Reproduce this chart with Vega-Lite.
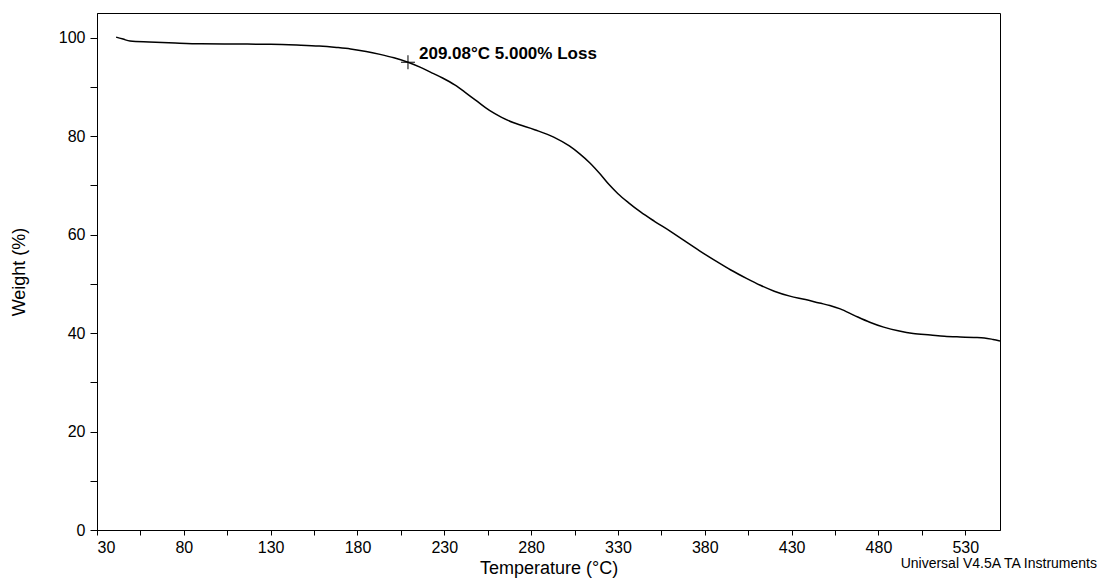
{
  "$schema": "https://vega.github.io/schema/vega-lite/v6.json",
  "width": 903,
  "height": 517,
  "autosize": "none",
  "padding": {"left": 97, "top": 13, "right": 100, "bottom": 50},
  "background": "white",
  "config": {
    "view": {"stroke": "black", "strokeWidth": 1},
    "font": "Liberation Sans",
    "axis": {
      "grid": false,
      "domainColor": "black",
      "tickColor": "black",
      "labelColor": "black",
      "titleColor": "black",
      "labelFont": "Liberation Sans",
      "titleFont": "Liberation Sans",
      "labelFontSize": 16,
      "titleFontSize": 18,
      "titleFontWeight": "normal"
    }
  },
  "title": {
    "text": "Universal V4.5A TA Instruments",
    "orient": "bottom",
    "anchor": "end",
    "frame": "group",
    "fontSize": 14,
    "fontWeight": "normal",
    "font": "Liberation Sans",
    "color": "black",
    "dx": 97,
    "offset": -20
  },
  "datasets": {
    "curve": [
      {"T": 41, "W": 100.1},
      {"T": 45, "W": 99.7},
      {"T": 49, "W": 99.3},
      {"T": 60, "W": 99.1},
      {"T": 75, "W": 98.9},
      {"T": 90, "W": 98.75},
      {"T": 110, "W": 98.7},
      {"T": 130, "W": 98.65},
      {"T": 145, "W": 98.5},
      {"T": 158, "W": 98.3},
      {"T": 168, "W": 98.0},
      {"T": 176, "W": 97.7},
      {"T": 185, "W": 97.2},
      {"T": 193, "W": 96.6},
      {"T": 201, "W": 95.9},
      {"T": 209.08, "W": 95.0},
      {"T": 216, "W": 94.0},
      {"T": 222, "W": 93.0},
      {"T": 229, "W": 91.8},
      {"T": 236, "W": 90.4},
      {"T": 242, "W": 88.9},
      {"T": 248, "W": 87.3},
      {"T": 256, "W": 85.2},
      {"T": 263, "W": 83.8},
      {"T": 270, "W": 82.7},
      {"T": 282, "W": 81.3},
      {"T": 293, "W": 79.8},
      {"T": 302, "W": 78.0},
      {"T": 308, "W": 76.4},
      {"T": 314, "W": 74.5},
      {"T": 320, "W": 72.2},
      {"T": 325, "W": 70.1},
      {"T": 330, "W": 68.3},
      {"T": 336, "W": 66.5},
      {"T": 343, "W": 64.6},
      {"T": 351, "W": 62.7},
      {"T": 360, "W": 60.7},
      {"T": 368, "W": 58.8},
      {"T": 377, "W": 56.7},
      {"T": 386, "W": 54.7},
      {"T": 395, "W": 52.8},
      {"T": 404, "W": 51.1},
      {"T": 412, "W": 49.7},
      {"T": 420, "W": 48.5},
      {"T": 429, "W": 47.5},
      {"T": 438, "W": 46.8},
      {"T": 446, "W": 46.1},
      {"T": 452, "W": 45.6},
      {"T": 458, "W": 44.9},
      {"T": 466, "W": 43.6},
      {"T": 475, "W": 42.2},
      {"T": 483, "W": 41.2},
      {"T": 492, "W": 40.4},
      {"T": 500, "W": 39.9},
      {"T": 510, "W": 39.6},
      {"T": 518, "W": 39.35},
      {"T": 527, "W": 39.2},
      {"T": 535, "W": 39.1},
      {"T": 541, "W": 39.0},
      {"T": 546, "W": 38.7},
      {"T": 550, "W": 38.4}
    ],
    "mark": [
      {"T": 209.08, "W": 95.0, "label": "209.08°C 5.000% Loss"}
    ]
  },
  "layer": [
    {
      "data": {"name": "curve"},
      "mark": {"type": "line", "color": "black", "strokeWidth": 1.5, "interpolate": "monotone", "clip": true},
      "encoding": {
        "x": {
          "field": "T", "type": "quantitative",
          "scale": {"domain": [30, 550], "nice": false, "zero": false},
          "axis": {
            "title": "Temperature (°C)",
            "values": [30, 55, 80, 105, 130, 155, 180, 205, 230, 255, 280, 305, 330, 355, 380, 405, 430, 455, 480, 505, 530],
            "labelExpr": "(datum.value - 30) % 50 == 0 ? datum.label : ''",
            "format": "d",
            "tickSize": 5,
            "labelPadding": 4,
            "titlePadding": 4
          }
        },
        "y": {
          "field": "W", "type": "quantitative",
          "scale": {"domain": [0, 105], "nice": false},
          "axis": {
            "title": "Weight (%)",
            "values": [0, 5, 10, 15, 20, 25, 30, 35, 40, 45, 50, 55, 60, 65, 70, 75, 80, 85, 90, 95, 100, 105],
            "labelExpr": "datum.value % 20 == 0 ? datum.label : ''",
            "format": "d",
            "tickSize": 7,
            "labelPadding": 5,
            "titlePadding": 30
          }
        }
      }
    },
    {
      "data": {"name": "mark"},
      "mark": {"type": "point", "shape": "M-1,0H1M0,-1V1", "size": 196, "filled": false, "stroke": "black", "strokeWidth": 1, "opacity": 1},
      "encoding": {
        "x": {"field": "T", "type": "quantitative"},
        "y": {"field": "W", "type": "quantitative"}
      }
    },
    {
      "data": {"name": "mark"},
      "mark": {"type": "text", "align": "left", "baseline": "middle", "dx": 11, "dy": -8, "fontSize": 17, "fontWeight": "bold", "font": "Liberation Sans", "color": "black"},
      "encoding": {
        "x": {"field": "T", "type": "quantitative"},
        "y": {"field": "W", "type": "quantitative"},
        "text": {"field": "label"}
      }
    }
  ]
}
